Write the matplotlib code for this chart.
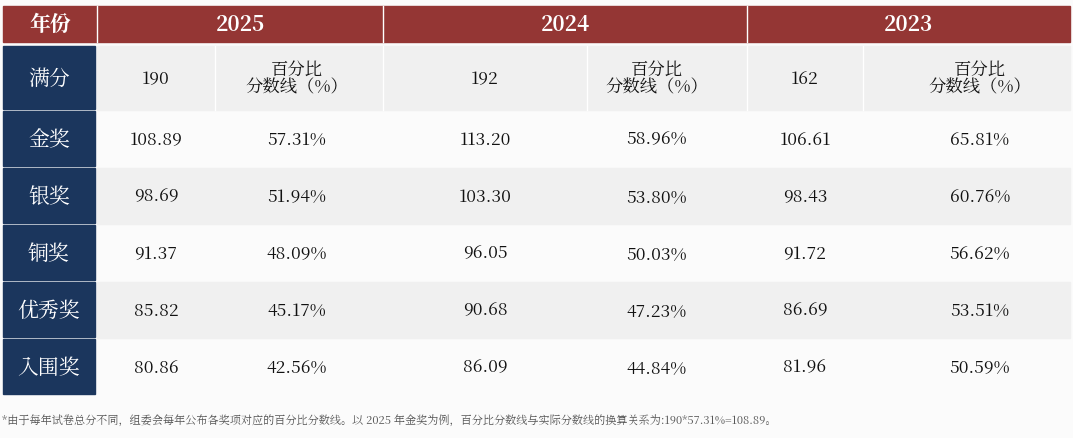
import matplotlib
matplotlib.use("Agg")
import matplotlib.pyplot as plt
from matplotlib import font_manager as fm
from matplotlib.patches import Rectangle

cjk = [f.name for f in fm.fontManager.ttflist if "CJK" in f.name]
cjk_name = "Noto Sans CJK SC" if "Noto Sans CJK SC" in cjk else (cjk[0] if cjk else "DejaVu Sans")
plt.rcParams["font.family"] = "sans-serif"
plt.rcParams["font.sans-serif"] = [cjk_name, "DejaVu Sans"]

years = ["2025", "2024", "2023"]
full_marks = ["190", "192", "162"]
awards = ["金奖", "银奖", "铜奖", "优秀奖", "入围奖"]
scores = [
    ["108.89", "113.20", "106.61"],
    ["98.69", "103.30", "98.43"],
    ["91.37", "96.05", "91.72"],
    ["85.82", "90.68", "86.69"],
    ["80.86", "86.09", "81.96"],
]
percents = [
    ["57.31%", "58.96%", "65.81%"],
    ["51.94%", "53.80%", "60.76%"],
    ["48.09%", "50.03%", "56.62%"],
    ["45.17%", "47.23%", "53.51%"],
    ["42.56%", "44.84%", "50.59%"],
]
note = "*由于每年试卷总分不同，组委会每年公布各奖项对应的百分比分数线。以 2025 年金奖为例，百分比分数线与实际分数线的换算关系为:190*57.31%=108.89。"

RED = "#943634"
NAVY = "#1b365d"
GREY = "#f0f0f0"

W, H = 1073, 439
fig = plt.figure(figsize=(W / 100, H / 100), dpi=100)
ax = fig.add_axes([0, 0, 1, 1])
ax.set_xlim(0, W)
ax.set_ylim(H, 0)
ax.axis("off")
fig.patch.set_facecolor("#fbfbfb")

left, right = 3, 1070
label_r = 97
year_edges = [97, 383, 747, 1070]
val_x = [156, 485, 805]
pct_x = [297, 657, 980]

# header
ax.add_patch(Rectangle((left, 7), right - left, 36, color=RED))
ax.text((left + label_r) / 2, 25, "年份", color="white", fontsize=15, fontweight="bold", ha="center", va="center")
for i, y in enumerate(years):
    x0, x1 = year_edges[i], year_edges[i + 1]
    ax.plot([x0, x0], [7, 43], color="white", lw=1)
    ax.text((x0 + x1) / 2, 25, y, color="white", fontsize=15, fontweight="bold", ha="center", va="center")

rows = [(47, 111)] + [(112 + 57 * k, 112 + 57 * (k + 1) - 1) for k in range(5)]
labels = ["满分"] + awards
for r, (y0, y1) in enumerate(rows):
    if r % 2 == 0:
        ax.add_patch(Rectangle((label_r, y0), right - label_r, y1 - y0, color=GREY))
    ax.add_patch(Rectangle((left, y0), label_r - left - 2, y1 - y0 - 1, color=NAVY))
    yc = (y0 + y1) / 2
    ax.text((left + label_r - 2) / 2, yc, labels[r], color="white", fontsize=15, ha="center", va="center")
    for i in range(3):
        if r == 0:
            ax.text(val_x[i], yc, full_marks[i], fontsize=12.5, ha="center", va="center", color="#111111")
            ax.text(pct_x[i], yc, "百分比\n分数线（%）", fontsize=12.5, ha="center", va="center",
                    linespacing=1.0, color="#111111")
        else:
            ax.text(val_x[i], yc, scores[r - 1][i], fontsize=12.5, ha="center", va="center", color="#111111")
            ax.text(pct_x[i], yc, percents[r - 1][i], fontsize=12.5, ha="center", va="center", color="#111111")

# thin white separators in the first row
for x in [215, 383, 587, 747, 863]:
    ax.plot([x, x], [47, 111], color="white", lw=1)

ax.text(2, 422, note, fontsize=8, color="#555555", ha="left", va="center")

fig.savefig("out.png", dpi=100)
